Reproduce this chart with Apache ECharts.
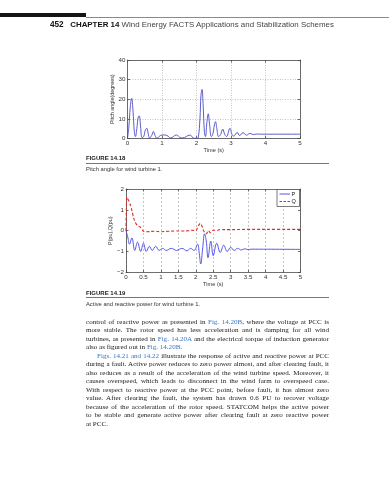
<!DOCTYPE html>
<html><head><meta charset="utf-8">
<script src="https://cdn.jsdelivr.net/npm/echarts@6/dist/echarts.min.js"></script>
<style>
html,body{margin:0;padding:0;background:#fff;width:389px;height:480px;overflow:hidden}
#c{position:absolute;left:0;top:0;width:389px;height:480px}
.t{position:absolute;white-space:nowrap;font-family:"Liberation Sans",Arial,sans-serif;color:#222;will-change:transform;-webkit-font-smoothing:antialiased}
#bar{position:absolute;left:0;top:12.7px;width:86px;height:4.6px;background:#151515}
#hline{position:absolute;left:86px;top:16.6px;width:303px;height:0.8px;background:#8a8a8a}
.cl{position:absolute;left:86px;width:243px;height:0.7px;background:#777}
#body{position:absolute;left:86px;top:317.8px;width:243px;font-family:"Liberation Serif","Times New Roman",serif;font-size:7.05px;line-height:8.47px;color:#1a1a1a;will-change:transform;-webkit-font-smoothing:antialiased}
#body div{text-align:justify;text-align-last:justify;height:8.47px;overflow:visible}
#body div.last{text-align-last:left}
#body a{color:#3a78c0;text-decoration:none}
</style></head>
<body>
<div id="bar"></div><div id="hline"></div>
<div class="t" style="left:50px;top:20.3px;font-size:7.9px;line-height:9px"><b style="font-size:8.2px;color:#111">452</b>&nbsp;&nbsp;&nbsp;<b style="color:#111">CHAPTER 14</b> <span style="color:#444">Wind Energy FACTS Applications and Stabilization Schemes</span></div>
<div id="c"></div>
<div class="t" style="left:86px;top:154.8px;font-size:6px;line-height:7px;font-weight:bold">FIGURE 14.18</div>
<div class="cl" style="top:163px"></div>
<div class="t" style="left:86px;top:165.5px;font-size:5.8px;line-height:7px;color:#333">Pitch angle for wind turbine 1.</div>
<div class="t" style="left:86px;top:289.8px;font-size:6px;line-height:7px;font-weight:bold">FIGURE 14.19</div>
<div class="cl" style="top:297.4px"></div>
<div class="t" style="left:86px;top:300.5px;font-size:5.8px;line-height:7px;color:#333">Active and reactive power for wind turbine 1.</div>
<div id="body">
<div>control of reactive power as presented in <a>Fig. 14.20B</a>, where the voltage at PCC is</div>
<div>more stable. The rotor speed has less acceleration and is damping for all wind</div>
<div>turbines, as presented in <a>Fig. 14.20A</a> and the electrical torque of induction generator</div>
<div class="last">also as figured out in <a>Fig. 14.20B</a>.</div>
<div style="text-indent:11px"><a>Figs. 14.21 and 14.22</a> illustrate the response of active and reactive power at PCC</div>
<div>during a fault. Active power reduces to zero power almost, and after clearing fault, it</div>
<div>also reduces as a result of the acceleration of the wind turbine speed. Moreover, it</div>
<div>causes overspeed, which leads to disconnect in the wind farm to overspeed case.</div>
<div>With respect to reactive power at the PCC point, before fault, it has almost zero</div>
<div>value. After clearing the fault, the system has drawn 0.6 PU to recover voltage</div>
<div>because of the acceleration of the rotor speed. STATCOM helps the active power</div>
<div>to be stable and generate active power after clearing fault at zero reactive power</div>
<div class="last">at PCC.</div>
</div>
<script>
// Figure 14.18: pitch angle (degrees) vs time (s)
var pitchTime  = [0,0.04,0.08,0.12,0.16,0.2,0.23,0.27,0.31,0.34,0.38,0.42,0.47,0.52,0.56,0.6,0.64,0.7,0.75,0.8,0.85,0.95,1.05,1.15,1.25,1.42,1.55,1.65,1.75,1.82,1.9,1.95,2.0,2.05,2.1,2.13,2.16,2.19,2.23,2.26,2.3,2.34,2.38,2.43,2.47,2.52,2.55,2.59,2.64,2.7,2.76,2.82,2.87,2.97,3.03,3.08,3.18,3.25,3.35,3.45,3.55,3.65,3.75,3.85,5.0];
var pitchAngle = [0,6,16,20.5,14,3,1,5,11,11.5,6,0.5,1,4.5,5.2,2.5,0.2,1.5,3.6,1.5,0.1,1.5,1.8,1.5,0.3,1.8,0.3,0.5,1.5,1.7,0.3,0.1,0.1,0.5,10,22,25,18,3,1,8,12.6,7,1,2,7,8.6,5,1,2,4.8,2,1,5.2,2,1.2,3.1,1.5,3,1.7,2.6,2,2.3,2.2,2.2];
// Figure 14.19: active power P and reactive power Q (pu) vs time (s)
var pTime = [0,0.05,0.1,0.17,0.25,0.33,0.42,0.5,0.58,0.67,0.75,0.85,0.95,1.05,1.15,1.3,1.45,1.6,1.75,1.85,1.95,2.05,2.1,2.14,2.2,2.25,2.3,2.35,2.43,2.5,2.6,2.7,2.8,2.9,3.0,3.1,3.2,3.3,3.4,3.5,3.6,5.0];
var pVal  = [0,-0.3,-0.65,-0.35,-0.95,-0.55,-1.0,-0.6,-1.0,-0.75,-0.95,-0.75,-0.95,-0.85,-0.95,-0.85,-0.95,-0.85,-0.97,-0.85,-0.95,-0.65,-1.1,-1.6,-0.8,-0.15,-0.5,-1.3,-0.5,-1.2,-0.6,-1.05,-0.7,-1.0,-0.8,-0.95,-0.85,-0.93,-0.87,-0.91,-0.89,-0.9];
var qTime = [0,0.01,0.03,0.06,0.1,0.15,0.2,0.25,0.3,0.35,0.4,0.45,0.5,0.6,0.8,1.0,1.2,1.4,1.6,1.8,1.95,2.0,2.05,2.1,2.13,2.18,2.24,2.3,2.36,2.42,2.5,2.6,2.7,3.0,3.5,4.0,5.0];
var qVal  = [0,1.0,1.6,1.5,1.35,1.1,0.75,0.45,0.3,0.22,0.18,0.08,-0.03,-0.05,-0.03,-0.05,-0.03,-0.02,-0.02,0,0.02,0,0.15,0.3,0.35,0.2,-0.05,-0.15,0,-0.1,0.02,0.02,0.05,0.05,0.06,0.06,0.06];
var legendNames = ['P','Q'];

function pairs(a,b){return a.map(function(v,i){return [v,b[i]];});}
function fmt(v){var s=String(v);return s.replace('-','\u2212');}

var chart = echarts.init(document.getElementById('c'), null, {renderer:'canvas'});
var axCol = '#4a4a4a';
var lblStyle = {fontSize:6.2,color:'#333',fontFamily:'Liberation Sans'};
function xAx(grid,pos,interval,labels,name,split){
  return {type:'value',gridIndex:grid,position:pos,min:0,max:5,interval:interval,
    axisLine:{show:true,onZero:false,lineStyle:{color:axCol,width:0.8}},
    axisTick:{show:true,inside:true,length:2.5,lineStyle:{color:axCol,width:0.8}},
    axisLabel:{show:labels,margin:2,formatter:fmt,...lblStyle},
    splitLine:{show:!!split,lineStyle:split||{}},
    name:name,nameLocation:'middle',nameGap:7,nameTextStyle:{fontSize:5.6,color:'#333',fontFamily:'Liberation Sans',verticalAlign:'top'}};
}
function yAx(grid,pos,min,max,interval,labels,name,split){
  return {type:'value',gridIndex:grid,position:pos,min:min,max:max,interval:interval,
    axisLine:{show:true,onZero:false,lineStyle:{color:axCol,width:0.8}},
    axisTick:{show:true,inside:true,length:2.5,lineStyle:{color:axCol,width:0.8}},
    axisLabel:{show:labels,margin:2,formatter:fmt,...lblStyle},
    splitLine:{show:!!split,lineStyle:split||{}},
    name:name,nameLocation:'middle',nameGap:9,nameRotate:90,nameTextStyle:{fontSize:5.4,color:'#333',fontFamily:'Liberation Sans'}};
}
var dotted = {color:'#9a9a9a',width:0.6,type:[1,1.5]};
var dashed = {color:'#a0a0a0',width:0.6,type:[2,2]};
var pColor = '#4646e8', qColor = '#e02828';
chart.setOption({
  animation:false,
  backgroundColor:'transparent',
  grid:[{left:127.5,top:60,width:172.5,height:78.5},{left:126,top:189,width:174.5,height:83.3}],
  xAxis:[
    xAx(0,'bottom',1,true,'Time (s)',dotted),
    xAx(0,'top',1,false,'',null),
    xAx(1,'bottom',0.5,true,'Time (s)',dashed),
    xAx(1,'top',0.5,false,'',null)
  ],
  yAxis:[
    yAx(0,'left',0,40,10,true,'Pitch angle(degrees)',dotted),
    yAx(0,'right',0,40,10,false,'',null),
    yAx(1,'left',-2,2,1,true,'P(pu),Q(pu)',null),
    yAx(1,'right',-2,2,1,false,'',null)
  ],
  graphic:[
    {type:'rect',shape:{x:277,y:189.5,width:22.5,height:17},style:{fill:'#fff',stroke:'#444',lineWidth:0.7},z:100},
    {type:'line',shape:{x1:279.5,y1:194,x2:290,y2:194},style:{stroke:pColor,lineWidth:0.9},z:101},
    {type:'line',shape:{x1:279.5,y1:201.5,x2:290,y2:201.5},style:{stroke:qColor,lineWidth:1.1,lineDash:[2.5,1.5]},z:101},
    {type:'text',x:291.5,y:194,style:{text:legendNames[0],fontSize:5.6,fill:'#222',fontFamily:'Liberation Sans',verticalAlign:'middle'},z:101},
    {type:'text',x:291.5,y:201.5,style:{text:legendNames[1],fontSize:5.6,fill:'#222',fontFamily:'Liberation Sans',verticalAlign:'middle'},z:101}
  ],
  series:[
    {name:'Pitch',type:'line',xAxisIndex:0,yAxisIndex:0,data:pairs(pitchTime,pitchAngle),
      showSymbol:false,symbol:'none',smooth:0.4,lineStyle:{color:'#4b4bc8',width:0.9}},
    {name:legendNames[0],type:'line',xAxisIndex:2,yAxisIndex:2,data:pairs(pTime,pVal),
      showSymbol:false,symbol:'none',smooth:0.4,lineStyle:{color:pColor,width:0.9}},
    {name:legendNames[1],type:'line',xAxisIndex:2,yAxisIndex:2,data:pairs(qTime,qVal),
      showSymbol:false,symbol:'none',smooth:0.4,lineStyle:{color:qColor,width:1.1,type:[3,2]}}
  ]
});
</script>
</body></html>
